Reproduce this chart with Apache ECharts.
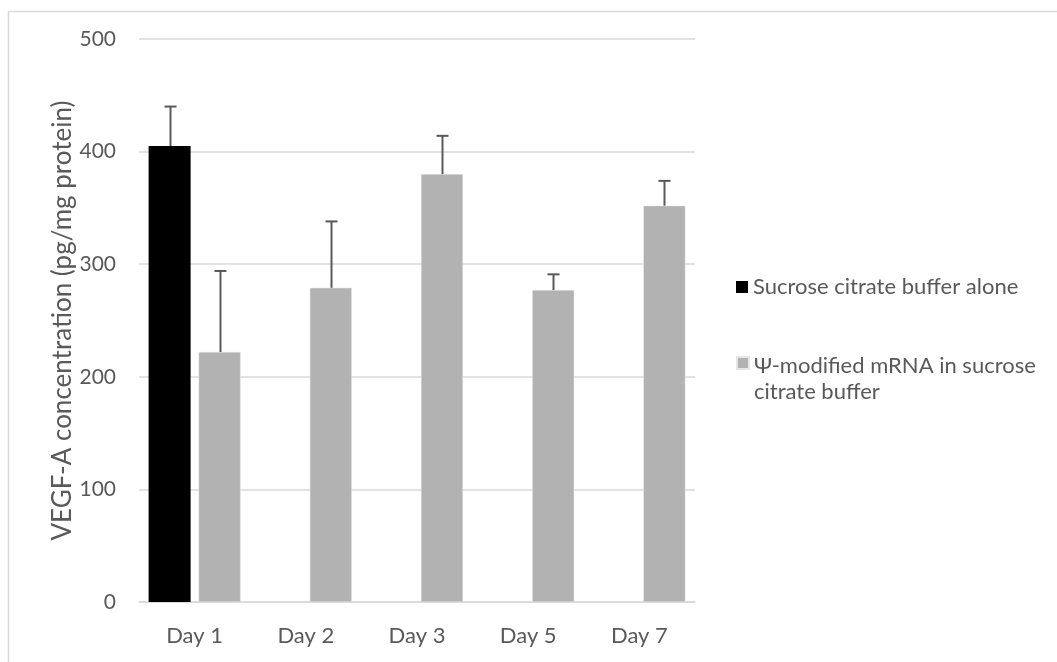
<!DOCTYPE html>
<html><head><meta charset="utf-8">
<script src="https://cdn.jsdelivr.net/npm/echarts@6/dist/echarts.min.js"></script>
<style>html,body{margin:0;padding:0;background:#fff}#c{width:1057px;height:662px}</style>
</head><body><div id="c"></div>
<script>
const categories = ['Day 1', 'Day 2', 'Day 3', 'Day 5', 'Day 7'];
const sucroseValues = [405, null, null, null, null];
const sucroseErrors = [35, null, null, null, null];
const mrnaValues = [222, 279, 380, 277, 352];
const mrnaErrors = [72, 59, 34, 14, 22];
const yTicks = [0, 100, 200, 300, 400, 500];
const seriesNames = ['Sucrose citrate buffer alone', 'Ψ-modified mRNA in sucrose citrate buffer'];

const FONT = 'Lato, "Open Sans", sans-serif';
const TXT = '#595959';
const chart = echarts.init(document.getElementById('c'));

function errSeries(values, errs, sIdx) {
  const data = [];
  values.forEach((v, i) => { if (v != null) data.push([i, v, v + errs[i]]); });
  return {
    type: 'custom', name: 'err' + sIdx, z: 5, silent: true,
    renderItem: function (params, api) {
      const i = api.value(0);
      const base = api.coord([i, api.value(1)]);
      const top = api.coord([i, api.value(2)]);
      const bw = api.size([1, 0])[0];
      const off = (sIdx === 0 ? -1 : 1) * 25 * (bw / 111.2);
      const x = Math.round(base[0] + off) + 0.5;
      const style = { stroke: '#595959', lineWidth: 2 };
      return { type: 'group', children: [
        { type: 'line', shape: { x1: x, y1: base[1], x2: x, y2: top[1] }, style: style },
        { type: 'line', shape: { x1: x - 6, y1: top[1], x2: x + 6, y2: top[1] }, style: style }
      ]};
    },
    data: data, encode: { x: 0, y: [1, 2] }
  };
}

chart.setOption({
  animation: false,
  textStyle: { fontFamily: FONT },
  graphic: [{ type: 'rect', left: 6, top: 9, shape: { width: 1100, height: 700 },
    style: { fill: 'none', stroke: '#d9d9d9', lineWidth: 1.5 }, z: -10 }],
  grid: { left: 139, top: 39, width: 556, height: 563, containLabel: false },
  legend: [
    { data: [seriesNames[0]], orient: 'vertical', left: 736, top: 275, padding: 0, itemWidth: 12, itemHeight: 12,
      icon: 'rect', textStyle: { color: TXT, fontSize: 22, lineHeight: 24, fontFamily: FONT }, selectedMode: false },
    { data: [seriesNames[1]], orient: 'vertical', left: 736, top: 353, padding: 0, itemWidth: 12, itemHeight: 44,
      icon: 'path://M0,0L12,0L12,12L0,12Z M0,44L0.001,44',
      formatter: function () { return 'Ψ-modified mRNA in sucrose\ncitrate buffer'; },
      textStyle: { color: TXT, fontSize: 22, fontFamily: FONT, lineHeight: 26 }, selectedMode: false }
  ],
  xAxis: {
    type: 'category', data: categories,
    axisLine: { lineStyle: { color: '#d9d9d9', width: 1.5 } },
    axisTick: { show: false },
    axisLabel: { color: TXT, fontSize: 22, margin: 23, fontFamily: FONT }
  },
  yAxis: {
    type: 'value', min: 0, max: 500, interval: 100,
    name: 'VEGF-A concentration (pg/mg protein)', nameLocation: 'middle', nameGap: 63,
    nameMoveOverlap: false,
    nameTextStyle: { color: TXT, fontSize: 26, fontFamily: FONT },
    axisLine: { show: false }, axisTick: { show: false },
    axisLabel: { color: TXT, fontSize: 21, margin: 23, fontFamily: FONT,
      formatter: function (v) { return yTicks.indexOf(v) >= 0 ? String(v) : ''; } },
    splitLine: { lineStyle: { color: '#d9d9d9', width: 1.5 } }
  },
  series: [
    { name: seriesNames[0], type: 'bar', data: sucroseValues, barWidth: 42, barGap: '19%',
      itemStyle: { color: '#000000' } },
    { name: seriesNames[1], type: 'bar', data: mrnaValues, barWidth: 42, barGap: '19%',
      itemStyle: { color: '#b2b2b2', borderColor: '#e6e6e6', borderWidth: 0.5 } },
    errSeries(sucroseValues, sucroseErrors, 0),
    errSeries(mrnaValues, mrnaErrors, 1)
  ]
});
</script></body></html>
